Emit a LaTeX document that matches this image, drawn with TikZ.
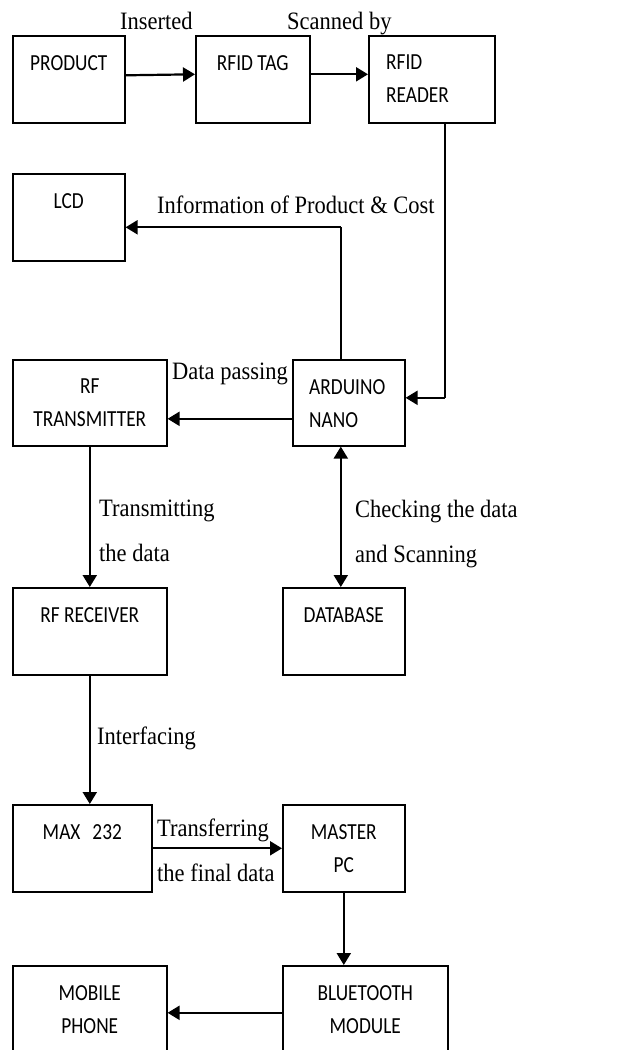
\documentclass[tikz,border=0pt]{standalone}
\usepackage{fontspec}
\usetikzlibrary{arrows.meta}
\newfontfamily\boxfont[FakeStretch=0.84]{Carlito}
\newfontfamily\notefont[FakeStretch=0.9]{Liberation Serif}
\tikzset{
  blk/.style={draw, line width=1.6pt, anchor=north west, inner sep=0pt, minimum height=87pt},
  boxtxt/.style={font={\boxfont\fontsize{23}{33}\selectfont}, align=center, inner sep=0pt, anchor=north, yshift=-20pt},
  note/.style={font={\notefont\fontsize{25}{45}\selectfont}, align=left, inner sep=0pt},
  wire/.style={line width=1.5pt},
  arr/.style={line width=2.2pt, -{Triangle[length=12pt,width=14pt]}},
  arr2/.style={line width=2.2pt, {Triangle[length=12pt,width=14pt]}-{Triangle[length=12pt,width=14pt]}},
}
\begin{document}
\begin{tikzpicture}[x=1pt,y=-1pt]
  \clip (0,0) rectangle (640,1050);
  % blocks
  \node[blk, minimum width=112pt, label={[boxtxt]north:PRODUCT}] (prod) at (12,35) {};
  \node[blk, minimum width=114pt, label={[boxtxt]north:RFID TAG}] (tag) at (195,35) {};
  \node[blk, minimum width=126pt, label={[boxtxt, align=left, anchor=north west, xshift=18pt]north west:{RFID\\READER}}] (reader) at (368,35) {};
  \node[blk, minimum width=112pt, label={[boxtxt]north:LCD}] (lcd) at (12,173) {};
  \node[blk, minimum width=154pt, minimum height=86pt, label={[boxtxt]north:{RF\\TRANSMITTER}}] (tx) at (12,359) {};
  \node[blk, minimum width=112pt, minimum height=86pt, label={[boxtxt, align=left, anchor=north west, xshift=17pt]north west:{ARDUINO\\NANO}}] (ard) at (292,359) {};
  \node[blk, minimum width=154pt, label={[boxtxt]north:RF RECEIVER}] (rx) at (12,587) {};
  \node[blk, minimum width=122pt, label={[boxtxt]north:DATABASE}] (db) at (282,587) {};
  \node[blk, minimum width=139pt, label={[boxtxt]north:MAX\hspace{12pt}232}] (max) at (12,804) {};
  \node[blk, minimum width=122pt, label={[boxtxt]north:{MASTER\\PC}}] (master) at (282,804) {};
  \node[blk, minimum width=154pt, minimum height=94pt, label={[boxtxt]north:{MOBILE\\PHONE}}] (mob) at (12,965) {};
  \node[blk, minimum width=165pt, minimum height=94pt, label={[boxtxt]north:{BLUETOOTH\\MODULE}}] (bt) at (282,965) {};
  % notes
  \node[note, anchor=base west] (ins) at (120,29) {Inserted};
  \node[note, anchor=base west] (scan) at (287,29) {Scanned by};
  \node[note, anchor=base west] (info) at (157,213) {Information of Product \& Cost};
  \node[note, anchor=base west] (pass) at (172,379) {Data passing};
  \node[note, anchor=north west] (trans) at (99,500) {Transmitting\\the data};
  \node[note, anchor=north west] (check) at (355,500) {Checking the data\\and Scanning};
  \node[note, anchor=base west] (intf) at (97,744) {Interfacing};
  \node[note, anchor=north west] (xfer) at (157,819) {Transferring\\the final data};
  % connectors
  \draw[arr] ([yshift=4pt]prod.east) -- ([yshift=5pt]tag.west);
  \draw[arr] ([yshift=5pt]tag.east) -- ([yshift=5pt]reader.west);
  \coordinate (rd) at ([xshift=13pt]reader.south);
  \coordinate (c1) at ([yshift=5pt]rd |- ard.east);
  \draw[wire] (rd) -- (c1);
  \draw[arr] (c1) -- (c1 -| ard.east);
  \coordinate (au) at ([xshift=-8pt]ard.north);
  \coordinate (c2) at ([yshift=-10pt]au |- lcd.east);
  \draw[wire] (au) -- (c2);
  \draw[arr] (c2) -- (c2 -| lcd.east);
  \draw[arr] ([yshift=-16pt]ard.west) -- ([yshift=-16pt]tx.east);
  \draw[arr] (tx.south) -- (rx.north);
  \draw[arr2] ([xshift=-8pt]ard.south) -- ([xshift=-8pt]ard.south |- db.north);
  \draw[arr] (rx.south) -- (rx.south |- max.north);
  \draw[arr] (max.east) -- (master.west);
  \draw[arr] (master.south) -- (master.south |- bt.north);
  \draw[arr] (bt.west) -- (mob.east);
\end{tikzpicture}
\end{document}
